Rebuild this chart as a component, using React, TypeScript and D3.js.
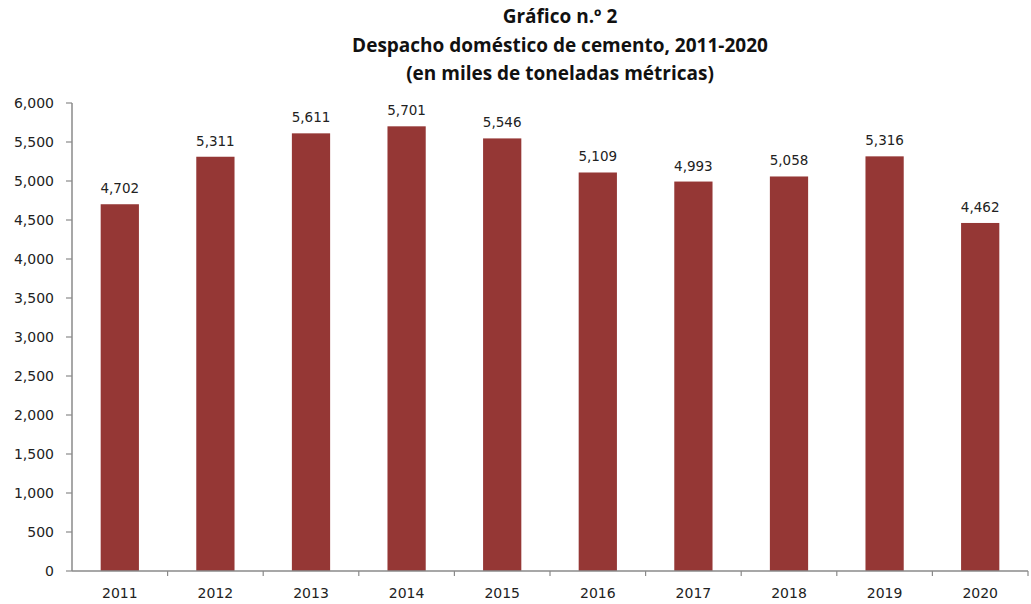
import React from "react";
import * as d3 from "d3";

const years = ["2011", "2012", "2013", "2014", "2015", "2016", "2017", "2018", "2019", "2020"];
const values = [4702, 5311, 5611, 5701, 5546, 5109, 4993, 5058, 5316, 4462];
const yTicks = [0, 500, 1000, 1500, 2000, 2500, 3000, 3500, 4000, 4500, 5000, 5500, 6000];
const titleLines = ["Gráfico n.º 2", "Despacho doméstico de cemento, 2011-2020", "(en miles de toneladas métricas)"];

const W = 1031;
const H = 604;
const left = 72;
const right = 1028;
const top = 103;
const bottom = 571;

export default function App() {
  const x = d3.scaleBand<string>().domain(years).range([left, right]).paddingInner(0.6).paddingOuter(0.3);
  const step = (right - left) / years.length;
  const y = d3.scaleLinear().domain([0, 6000]).range([bottom, top]);
  const fmt = d3.format(",");
  const axisColor = "#8a8a8a";
  const font = "'DejaVu Sans', Verdana, sans-serif";
  const titleFont = "'Open Sans', sans-serif";
  const titleY = [23, 52, 80];
  return (
    <svg width={W} height={H} style={{ position: "absolute", left: 0, top: 0, background: "#fff" }}>
      <rect x={0} y={0} width={W} height={H} fill="#fff" />
      {titleLines.map((t, i) => (
        <text key={i} x={560} y={titleY[i]} textAnchor="middle" fontFamily={titleFont} fontWeight="bold" fontSize={19} fill="#111">
          {t}
        </text>
      ))}
      {values.map((v, i) => (
        <g key={years[i]}>
          <rect x={x(years[i])} y={y(v)} width={x.bandwidth()} height={bottom - y(v)} fill="#953735" />
          <text x={(x(years[i]) as number) + x.bandwidth() / 2} y={y(v) - 11} textAnchor="middle" fontFamily={font} fontSize={13.5} fill="#222">
            {fmt(v)}
          </text>
          <text x={(x(years[i]) as number) + x.bandwidth() / 2} y={598} textAnchor="middle" fontFamily={font} fontSize={14} fill="#222">
            {years[i]}
          </text>
        </g>
      ))}
      <line x1={left} y1={top} x2={left} y2={bottom} stroke={axisColor} strokeWidth={1.5} />
      <line x1={left} y1={bottom} x2={right} y2={bottom} stroke={axisColor} strokeWidth={1.5} />
      {yTicks.map((t) => (
        <g key={t}>
          <line x1={left - 6} y1={y(t)} x2={left} y2={y(t)} stroke={axisColor} strokeWidth={1.2} />
          <text x={54} y={y(t) + 5} textAnchor="end" fontFamily={font} fontSize={14} fill="#222">
            {fmt(t)}
          </text>
        </g>
      ))}
      {years.map((_, i) => (
        <line key={i} x1={left + step * (i + 1)} y1={bottom} x2={left + step * (i + 1)} y2={bottom + 5} stroke={axisColor} strokeWidth={1.2} />
      ))}
    </svg>
  );
}
